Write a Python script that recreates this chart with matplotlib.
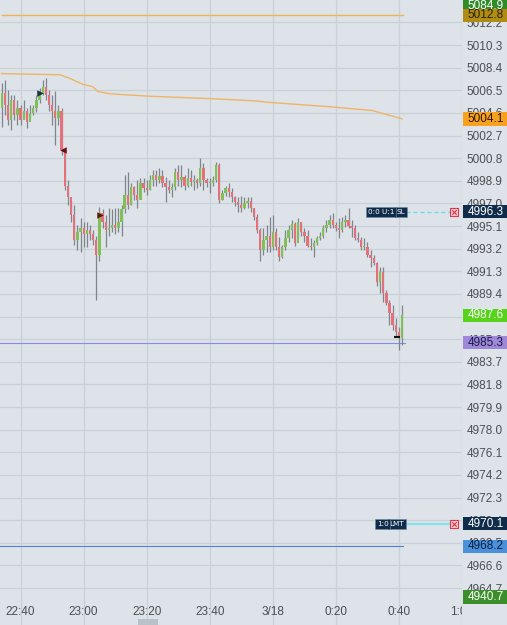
import numpy as np
import matplotlib
matplotlib.use("Agg")
import matplotlib.pyplot as plt
from matplotlib.patches import Rectangle
from matplotlib.transforms import blended_transform_factory

# 1-minute candles starting 22:34
first_open = 5005.0
closes = [5006.3, 5005.3, 5004.0, 5005.7, 5004.4, 5005.0, 5004.0, 5004.8, 5003.8, 5004.6,
          5005.0, 5005.7, 5006.3, 5006.8, 5006.1, 5005.3, 5004.8, 5004.2, 5004.8, 5001.5,
          4998.5, 4997.5, 4996.0, 4993.9, 4994.6, 4994.9, 4994.4, 4994.8, 4994.4, 4993.9,
          4992.7, 4996.2, 4995.4, 4994.8, 4994.9, 4995.2, 4994.9, 4995.4, 4996.5, 4997.7,
          4996.9, 4998.4, 4997.7, 4997.3, 4998.7, 4998.3, 4998.1, 4999.0, 4999.4, 4999.0,
          4999.3, 4998.7, 4998.4, 4998.1, 4998.4, 4999.6, 4999.0, 4999.2, 4998.5, 4999.1,
          4998.8, 4999.0, 4998.7, 5000.0, 4999.0, 4998.7, 4998.7, 4999.0, 5000.2, 4997.3,
          4997.9, 4998.3, 4998.0, 4997.5, 4997.1, 4996.9, 4996.6, 4997.0, 4997.2, 4996.6,
          4995.9, 4994.8, 4993.1, 4993.9, 4994.3, 4993.3, 4994.6, 4993.3, 4992.5, 4993.3,
          4994.1, 4994.8, 4995.3, 4993.7, 4995.4, 4994.6, 4994.3, 4993.4, 4993.3, 4993.7,
          4994.1, 4994.3, 4994.9, 4995.2, 4995.6, 4995.2, 4994.9, 4994.8, 4995.4, 4995.6,
          4995.1, 4994.9, 4994.1, 4993.9, 4993.3, 4993.3, 4992.7, 4992.4, 4992.0, 4990.4,
          4991.2, 4989.5, 4988.6, 4987.8, 4986.8, 4986.2, 4985.7, 4987.6]
highs = [5007.1, 5007.4, 5006.5, 5006.1, 5006.1, 5005.7, 5005.3, 5005.7, 5005.0, 5005.3,
         5005.3, 5006.1, 5006.7, 5007.4, 5007.5, 5006.5, 5006.1, 5006.4, 5005.3, 5005.0,
         5001.5, 4999.0, 4997.3, 4996.9, 4995.2, 4995.8, 4995.4, 4995.4, 4995.2, 4994.8,
         4994.3, 4996.7, 4996.5, 4996.0, 4996.6, 4996.5, 4996.6, 4996.6, 4996.9, 4999.4,
         4999.6, 4998.7, 4998.5, 4999.0, 4999.1, 4999.1, 4999.0, 4999.4, 4999.8, 4999.8,
         5000.0, 4999.8, 4999.2, 4999.0, 4998.7, 5000.0, 5000.2, 5000.2, 4999.4, 5000.0,
         4999.8, 4999.4, 4999.1, 5000.8, 5000.4, 4999.1, 4999.1, 4999.3, 5000.5, 5000.4,
         4998.1, 4998.5, 4998.7, 4998.3, 4997.6, 4997.5, 4997.6, 4997.5, 4997.5, 4997.5,
         4996.6, 4996.1, 4994.9, 4994.9, 4995.2, 4995.9, 4996.0, 4994.9, 4994.2, 4993.5,
         4994.8, 4995.2, 4995.6, 4995.4, 4995.8, 4995.4, 4994.9, 4994.8, 4994.1, 4993.9,
         4994.3, 4994.6, 4995.2, 4995.6, 4996.0, 4996.2, 4995.4, 4995.8, 4995.9, 4996.0,
         4996.6, 4995.6, 4995.2, 4994.6, 4994.2, 4994.1, 4993.8, 4993.1, 4992.7, 4992.1,
         4991.7, 4991.7, 4989.7, 4988.9, 4988.5, 4987.4, 4986.6, 4988.5]
lows = [5003.4, 5004.4, 5003.6, 5003.2, 5004.0, 5003.6, 5003.6, 5004.2, 5003.3, 5004.2,
        5004.4, 5004.7, 5005.4, 5006.1, 5005.7, 5004.8, 5003.6, 5001.9, 5003.6, 5001.1,
        4998.1, 4996.9, 4995.4, 4993.5, 4993.1, 4992.9, 4993.3, 4993.3, 4993.9, 4993.5,
        4988.9, 4992.2, 4994.9, 4993.3, 4994.3, 4994.6, 4994.4, 4994.6, 4994.3, 4996.2,
        4996.5, 4996.9, 4997.3, 4996.6, 4997.5, 4998.0, 4997.7, 4998.1, 4998.5, 4998.5,
        4998.7, 4998.4, 4997.1, 4997.9, 4997.5, 4998.1, 4998.5, 4998.4, 4998.1, 4998.4,
        4998.5, 4998.1, 4998.3, 4998.5, 4998.1, 4998.4, 4997.9, 4998.5, 4998.8, 4997.0,
        4997.3, 4997.6, 4997.5, 4997.1, 4996.8, 4996.3, 4996.3, 4996.5, 4996.6, 4996.3,
        4995.6, 4994.5, 4992.2, 4992.7, 4992.9, 4992.9, 4993.1, 4993.1, 4992.2, 4992.4,
        4993.1, 4993.8, 4994.1, 4993.4, 4994.2, 4994.3, 4993.8, 4993.3, 4993.1, 4992.5,
        4993.5, 4993.9, 4994.1, 4994.6, 4994.9, 4994.9, 4994.7, 4994.1, 4994.6, 4995.0,
        4994.9, 4994.2, 4993.9, 4993.8, 4993.1, 4993.1, 4992.5, 4991.7, 4991.8, 4990.1,
        4989.5, 4988.7, 4988.5, 4986.8, 4986.4, 4985.8, 4984.7, 4985.1]

# orange average line: (minute index, price) knots
avg_minutes = [0, 18.5, 21.6, 25.7, 28.9, 30.5, 34.3, 47, 66, 80.8, 84, 104.8, 117.5, 127]
avg_prices = [5007.9, 5007.8, 5007.5, 5007.0, 5006.8, 5006.4, 5006.2, 5006.0, 5005.8,
              5005.6, 5005.5, 5005.1, 5004.8, 5004.1]

level_top = 5012.8
level_avg = 4985.3
level_blue = 4968.2
stop_price = 4996.3
limit_price = 4970.1
last_price = 4987.6

time_ticks = [6, 26, 46, 66, 86, 106, 126, 146]
time_labels = ["22:40", "23:00", "23:20", "23:40", "3/18", "0:20", "0:40", "1:00"]
price_ticks = np.round(np.arange(5012.2, 4964.0, -1.9), 1)

# executions: (minute, price, marker, colour)
fills = [(12.2, 5006.3, ">", "#18343f"), (19.4, 5001.5, "<", "#6b0f12"),
         (31.1, 4996.0, ">", "#5a1a0a")]

bg = "#dde3e8"
grid_c = "#c9d1d8"
up_c = "#80c055"
dn_c = "#e6707a"
wick_c = "#7e858d"

fig = plt.figure(figsize=(5.07, 6.25), dpi=100)
fig.patch.set_facecolor(bg)
ax = fig.add_axes([0, 0, 462 / 507, 1])
ax.set_facecolor(bg)
for s in ax.spines.values():
    s.set_visible(False)

closes = np.array(closes)
highs = np.array(highs)
lows = np.array(lows)
opens = np.r_[first_open, closes[:-1]]
idx = np.arange(len(closes))

ax.set_xlim(-0.54, 145.7)
ax.set_ylim(4961.6, 5014.08)

# grid
ax.set_yticks(price_ticks)
ax.set_yticklabels([f"{p:.1f}" for p in price_ticks])
ax.set_xticks(time_ticks)
ax.set_xticklabels([])
ax.yaxis.tick_right()
ax.tick_params(axis="y", length=0, pad=3.5, labelsize=8.5, labelcolor="#4d4f52")
ax.tick_params(axis="x", length=0)
for t in ax.get_yticklabels():
    t.set_fontfamily("Liberation Sans")
ax.grid(True, color=grid_c, lw=0.9)
ax.set_axisbelow(True)

for m, lab in zip(time_ticks, time_labels):
    ax.text(m, 0.021, lab, transform=blended_transform_factory(ax.transData, ax.transAxes),
            ha="center", va="center", fontsize=8.5, color="#4d4f52",
            family="Liberation Sans", clip_on=True)

# candles
ax.vlines(idx, lows, highs, color=wick_c, lw=0.9, zorder=3)
body_lo = np.minimum(opens, closes)
body_h = np.maximum(np.abs(closes - opens), 0.12)
cols = [up_c if c >= o else dn_c for o, c in zip(opens, closes)]
ax.bar(idx, body_h, bottom=body_lo, width=0.74, color=cols, zorder=4, linewidth=0)

# level lines
ax.plot([0, 127.3], [level_top, level_top], color="#eeb458", lw=1.0, zorder=2)
ax.plot(avg_minutes, avg_prices, color="#efb565", lw=1.0, zorder=2)
ax.plot([-1, 128], [level_avg, level_avg], color="#8d88e2", lw=0.8, zorder=2)
ax.plot([-1, 127.3], [level_blue, level_blue], color="#4f82c8", lw=0.8, zorder=2)
ax.plot([128.3, 142.5], [stop_price, stop_price], color="#6fdde6", lw=1.0, ls=(0, (3, 2)), zorder=2)
ax.plot([127.2, 142.5], [limit_price, limit_price], color="#86e2ea", lw=1.6, zorder=2)

for m, p, mk, c in fills:
    ax.scatter([m], [p], marker=mk, s=22, color=c, zorder=6, linewidths=0)
ax.scatter([125.4], [4985.8], marker="_", s=18, color="#111111", zorder=6)

# cancel boxes
for p in [stop_price, limit_price]:
    ax.scatter([143.5], [p], marker="s", s=34, facecolor="#f6c4ca", edgecolor="#d83a50",
               lw=0.8, zorder=6)
    ax.scatter([143.5], [p], marker="x", s=10, color="#d83a50", lw=0.8, zorder=7)

# order tags
navy = "#0f2d4b"
def tag(m, p, parts):
    x = m
    for txt, w in reversed(parts):
        ax.text(x, p, txt, ha="right", va="center", fontsize=5.2, color="white",
                family="DejaVu Sans", zorder=8,
                bbox=dict(boxstyle="square,pad=0.25", fc=navy, ec="#6f8aa5", lw=0.4))
        x -= w

tag(127.9, stop_price, [("0:0 U:1", 3.4), ("SL", 3.5)])
tag(127.6, limit_price, [("1:0", 5.1), ("LMT", 4.9)])

# right-hand price boxes
bt = blended_transform_factory(ax.transAxes, ax.transData)
def price_box(p, text, fc, tc):
    ax.add_patch(Rectangle((1.002, p - 0.56), 44 / 462, 1.12, transform=bt,
                           facecolor=fc, edgecolor="none", clip_on=False, zorder=9))
    ax.text(1.012, p, text, transform=bt, ha="left", va="center", fontsize=8.5,
            color=tc, family="Liberation Sans", clip_on=False, zorder=10)

price_box(5013.6, "5084.9", "#2f8a28", "white")
price_box(level_top, "5012.8", "#b08c12", "#2a2000")
price_box(5004.1, "5004.1", "#f7a11f", "#2a1800")
price_box(stop_price, "4996.3", navy, "white")
price_box(last_price, "4987.6", "#57d31b", "white")
price_box(level_avg, "4985.3", "#a088d8", "#1a1c48")
price_box(limit_price, "4970.1", navy, "white")
price_box(level_blue, "4968.2", "#4a90da", "#0c2240")
price_box(4963.95, "4940.7", "#3b8f2a", "white")

# scrollbar thumb
fig.patches.append(Rectangle((138 / 507, 0), 20 / 507, 6 / 625, transform=fig.transFigure,
                             facecolor="#b9c1c9", edgecolor="none"))

fig.savefig("out.png", dpi=100, facecolor=bg)
